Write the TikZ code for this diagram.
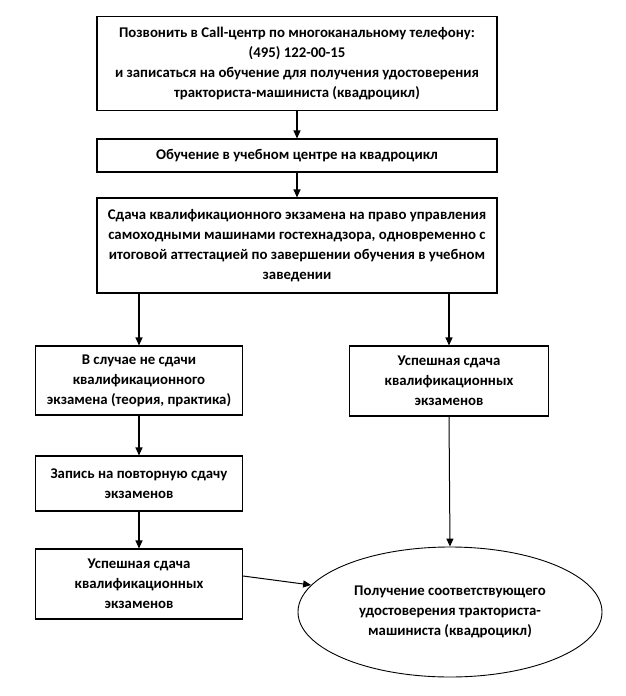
\documentclass[tikz,border=0pt]{standalone}
\usepackage{fontspec}
\setmainfont{Carlito}
\usetikzlibrary{arrows.meta,shapes.geometric}
\begin{document}
\begin{tikzpicture}[x=1pt,y=-1pt,
  every node/.style={font=\fontsize{14.8pt}{20pt}\selectfont\bfseries, align=center, inner sep=0pt},
  box/.style={draw, line width=1.1pt, rectangle},
  oval/.style={draw, line width=0.9pt, ellipse},
  arr/.style={line width=1.1pt, -{Triangle[length=8pt,width=7pt]}},
  arrthin/.style={line width=1pt, -{Triangle[length=8pt,width=7pt]}}]
\useasboundingbox (0,0) rectangle (626,696);
\node[box, minimum width=400pt, minimum height=94pt] (b1) at (297,63.5)
  {Позвонить в Call-центр по многоканальному телефону:\\(495) 122-00-15\\и записаться на обучение для получения удостоверения\\тракториста-машиниста (квадроцикл)};
\node[box, minimum width=400pt, minimum height=33pt] (b2) at (297,155.5)
  {Обучение в учебном центре на квадроцикл};
\node[box, minimum width=400pt, minimum height=95pt] (b3) at (297,245.5)
  {Сдача квалификационного экзамена на право управления\\самоходными машинами гостехнадзора, одновременно с\\итоговой аттестацией по завершении обучения в учебном\\заведении};
\node[box, minimum width=207pt, minimum height=69pt] (b4) at (139,380.5)
  {В случае не сдачи\\квалификационного\\экзамена (теория, практика)};
\node[box, minimum width=207pt, minimum height=55pt] (b5) at (139,483.5)
  {Запись на повторную сдачу\\экзаменов};
\node[box, minimum width=207pt, minimum height=70pt] (b6) at (139,584)
  {Успешная сдача\\квалификационных\\экзаменов};
\node[box, minimum width=199pt, minimum height=70pt] (b7) at (449,381)
  {Успешная сдача\\квалификационных\\экзаменов};
\node[oval, minimum width=304pt, minimum height=130pt] (e) at (450,612)
  {Получение соответствующего\\удостоверения тракториста-\\машиниста (квадроцикл)};
\draw[arr] (b1.south) -- (b2.north);
\draw[arr] (b2.south) -- (b3.north);
\draw[arr] (b3.south -| b4.north) -- (b4.north);
\draw[arr] (b3.south -| b7.north) -- (b7.north);
\draw[arr] (b4.south) -- (b5.north);
\draw[arr] (b5.south) -- (b6.north);
\draw[arrthin] (b7.south) -- (e.north);
\coordinate (s6) at (b6.east |- 0,576);
\draw[arrthin] (s6) -- (e.169);
\end{tikzpicture}
\end{document}
